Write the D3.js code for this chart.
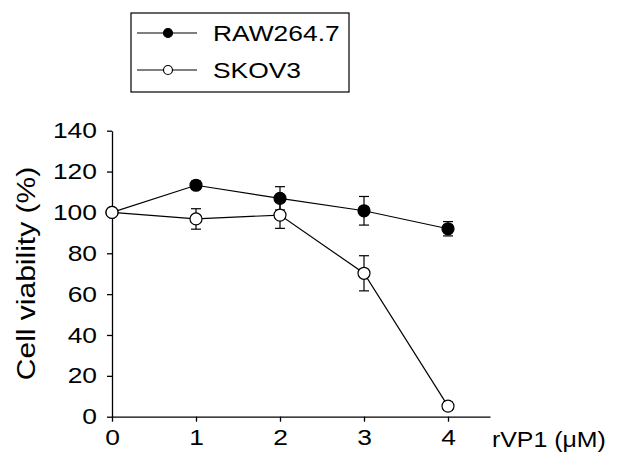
<!DOCTYPE html>
<html>
<head>
<meta charset="utf-8">
<script src="https://cdn.jsdelivr.net/npm/d3@7.9.0/dist/d3.min.js"></script>
<style>
  body { margin: 0; background: #fff; }
  text { font-family: "Liberation Sans", Arial, sans-serif; fill: #000; }
</style>
</head>
<body>
<svg width="636" height="455"></svg>
<script>
const doses = [0, 1, 2, 3, 4];
const rawMean = [100, 113.3, 106.9, 100.8, 92];
const rawErr = [0, 2, 5.7, 7, 3.5];
const skovMean = [100, 96.8, 98.7, 70.2, 5.2];
const skovErr = [0, 5, 6.5, 8.6, 2];
const yTicks = [0, 20, 40, 60, 80, 100, 120, 140];

const series = [
  { name: 'RAW264.7', mean: rawMean, err: rawErr, fill: '#000' },
  { name: 'SKOV3', mean: skovMean, err: skovErr, fill: '#fff' }
];

const svg = d3.select('svg');
const FONT = '"Liberation Sans", Arial, sans-serif';

// the original figure's lettering is a bit wider than Arial
function stretch(sel, k = 1.2) {
  sel.each(function () {
    const w = this.getComputedTextLength();
    d3.select(this).attr('textLength', w * k).attr('lengthAdjust', 'spacingAndGlyphs');
  });
}

const x = d3.scaleLinear().domain([0, 4.5]).range([112, 490]);
const y = d3.scaleLinear().domain([0, 140]).range([416.7, 130.7]);

// axes
const yAxis = svg.append('g')
  .attr('transform', `translate(${x(0)},0)`)
  .call(d3.axisLeft(y).tickValues(yTicks).tickSize(5).tickPadding(10).tickSizeOuter(0));
const xAxis = svg.append('g')
  .attr('transform', `translate(0,${y(0)})`)
  .call(d3.axisBottom(x).tickValues(doses).tickFormat(d3.format('d'))
    .tickSize(5).tickPadding(8).tickSizeOuter(0));

[yAxis, xAxis].forEach(ax => {
  ax.select('.domain').attr('stroke', '#000').attr('stroke-width', 1.3);
  ax.selectAll('.tick line').attr('stroke', '#000').attr('stroke-width', 1.3);
  ax.selectAll('.tick text').attr('font-size', 22).attr('fill', '#000')
    .style('font-family', FONT)
    .call(stretch);
});

svg.append('text')
  .attr('x', 492).attr('y', 447)
  .attr('font-size', 22)
  .text('rVP1 (\u03bcM)')
  .call(stretch, 1.13);

svg.append('text')
  .attr('transform', 'translate(35,273.5) rotate(-90)')
  .attr('text-anchor', 'middle')
  .attr('font-size', 25)
  .text('Cell viability (%)')
  .call(stretch);

const line = d3.line().x((d, i) => x(doses[i])).y(d => y(d));

series.forEach(s => {
  const g = svg.append('g');
  g.append('path')
    .attr('d', line(s.mean))
    .attr('fill', 'none').attr('stroke', '#000').attr('stroke-width', 1.2);

  s.mean.forEach((m, i) => {
    const e = s.err[i];
    if (!e) return;
    const cx = x(doses[i]);
    g.append('line').attr('x1', cx).attr('x2', cx)
      .attr('y1', y(m - e)).attr('y2', y(m + e))
      .attr('stroke', '#000').attr('stroke-width', 1.2);
    [m - e, m + e].forEach(v => {
      g.append('line').attr('x1', cx - 5).attr('x2', cx + 5)
        .attr('y1', y(v)).attr('y2', y(v))
        .attr('stroke', '#000').attr('stroke-width', 1.2);
    });
  });

  g.selectAll('circle').data(s.mean).join('circle')
    .attr('cx', (d, i) => x(doses[i]))
    .attr('cy', d => y(d))
    .attr('r', 6)
    .attr('fill', s.fill).attr('stroke', '#000').attr('stroke-width', 1.2);
});

// legend
const legend = svg.append('g');
legend.append('rect')
  .attr('x', 131).attr('y', 13).attr('width', 218).attr('height', 79)
  .attr('fill', '#fff').attr('stroke', '#000').attr('stroke-width', 1.2);

series.forEach((s, i) => {
  const ly = 33 + i * 37;
  legend.append('line').attr('x1', 137).attr('x2', 197)
    .attr('y1', ly).attr('y2', ly).attr('stroke', '#000').attr('stroke-width', 1.2);
  legend.append('circle').attr('cx', 168).attr('cy', ly).attr('r', 4.5)
    .attr('fill', s.fill).attr('stroke', '#000').attr('stroke-width', 1.2);
  legend.append('text').attr('x', 213).attr('y', ly + 8)
    .attr('font-size', 22).text(s.name)
    .call(stretch);
});
</script>
</body>
</html>
